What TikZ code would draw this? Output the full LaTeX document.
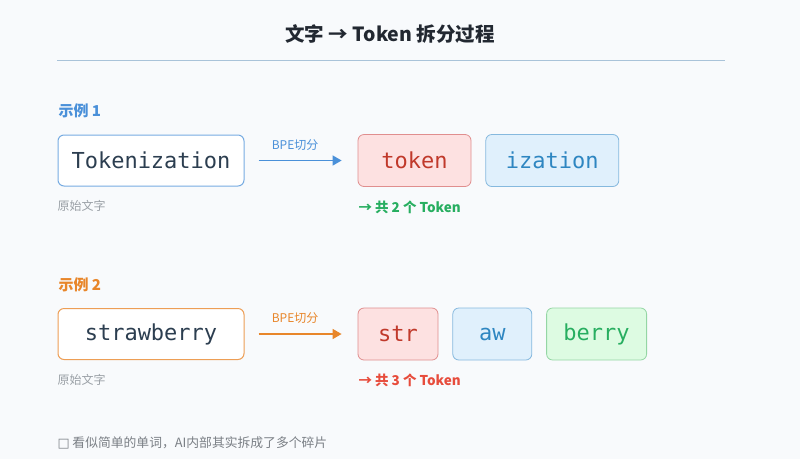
\documentclass[tikz,border=0pt]{standalone}
\usepackage{fontspec}
\setmainfont{Noto Sans CJK SC}
\newfontfamily\codefont{DejaVu Sans Mono}
\newfontfamily\symfont{DejaVu Sans}
\usetikzlibrary{positioning,arrows.meta}
\definecolor{pagebg}{HTML}{F8FAFC}
\definecolor{ruleblue}{HTML}{A9C3D9}
\definecolor{ink}{HTML}{222831}
\definecolor{codeink}{HTML}{2C3E50}
\definecolor{mutegray}{HTML}{9AA0A6}
\definecolor{noteink}{HTML}{7A7F85}
\definecolor{exblue}{HTML}{4A90D9}
\definecolor{exorange}{HTML}{E8862A}
\definecolor{redline}{HTML}{E08E8E}
\definecolor{redfill}{HTML}{FDE1E1}
\definecolor{redink}{HTML}{C0392B}
\definecolor{blueline}{HTML}{86B9DE}
\definecolor{bluefill}{HTML}{E0F0FC}
\definecolor{blueink}{HTML}{2E86C1}
\definecolor{greenline}{HTML}{94D6A4}
\definecolor{greenfill}{HTML}{DDFBE2}
\definecolor{greenink}{HTML}{27AE60}
\definecolor{countred}{HTML}{E74C3C}
\tikzset{
  srcbox/.style={draw=#1, fill=white, rounded corners=6pt, line width=1pt,
    minimum width=186pt, minimum height=51pt, inner sep=0pt,
    font=\codefont\fontsize{22}{24}\selectfont, text=codeink},
  piece/.style={rounded corners=6pt, line width=0.8pt,
    minimum height=52pt, inner sep=0pt,
    font=\codefont\fontsize{22}{24}\selectfont},
  redpiece/.style={piece, draw=redline, fill=redfill, text=redink},
  bluepiece/.style={piece, draw=blueline, fill=bluefill, text=blueink},
  greenpiece/.style={piece, draw=greenline, fill=greenfill, text=greenink},
  cut/.style={-{Triangle[length=9pt,width=10pt]}, line width=1.5pt, draw=#1,
    shorten <=14pt, shorten >=16pt},
  cutlabel/.style={font=\fontsize{12}{14}\selectfont, text=#1, xshift=-6pt},
  exhead/.style={font=\bfseries\fontsize{15}{17}\selectfont, text=#1, anchor=west},
  caption/.style={font=\fontsize{12}{14}\selectfont, text=mutegray, anchor=west},
  count/.style={font=\bfseries\fontsize{13.5}{15}\selectfont, text=#1, anchor=west}
}

\begin{document}
\begin{tikzpicture}[x=1pt, y=-1pt]
  \fill[pagebg] (0,0) rectangle (800,459);
  \useasboundingbox (0,0) rectangle (800,459);

  \node[font=\bfseries\fontsize{19.5}{22}\selectfont, text=ink] (title) at (390,34)
    {文字 → Token 拆分过程};
  \draw[ruleblue, line width=1pt] (57,60) -- (725,60);

  % Example 1
  \node[exhead=exblue] (head1) at (55,111) {示例 1};
  \node[srcbox=exblue!75] (src1) at (151,160.5) {Tokenization};
  \node[caption] (orig1) at (54,206) {原始文字};
  \node[redpiece, minimum width=113pt] (tok1) at (414.5,160.5) {token};
  \node[bluepiece, minimum width=133pt, right=14pt of tok1] (tok2) {ization};
  \draw[cut=exblue] (src1) -- node[cutlabel=exblue, above=6pt] {BPE切分} (tok1);
  \node[count=greenink] (sum1) at (355,207) {→ 共 2 个 Token};

  % Example 2
  \node[exhead=exorange] (head2) at (55,285) {示例 2};
  \node[srcbox=exorange!80] (src2) at (151,334) {strawberry};
  \node[caption] (orig2) at (54,380) {原始文字};
  \node[redpiece, minimum width=80pt] (str) at (398,334) {str};
  \node[bluepiece, minimum width=79pt, right=14pt of str] (aw) {aw};
  \node[greenpiece, minimum width=100pt, right=14pt of aw] (berry) {berry};
  \draw[cut=exorange] (src2) -- node[cutlabel=exorange, above=6pt] {BPE切分} (str);
  \node[count=countred] (sum2) at (355,380) {→ 共 3 个 Token};

  \node[font=\fontsize{12.8}{15}\selectfont, text=noteink, anchor=west] (note) at (54,443)
    {{\symfont □} 看似简单的单词，AI内部其实拆成了多个碎片};
\end{tikzpicture}
\end{document}
